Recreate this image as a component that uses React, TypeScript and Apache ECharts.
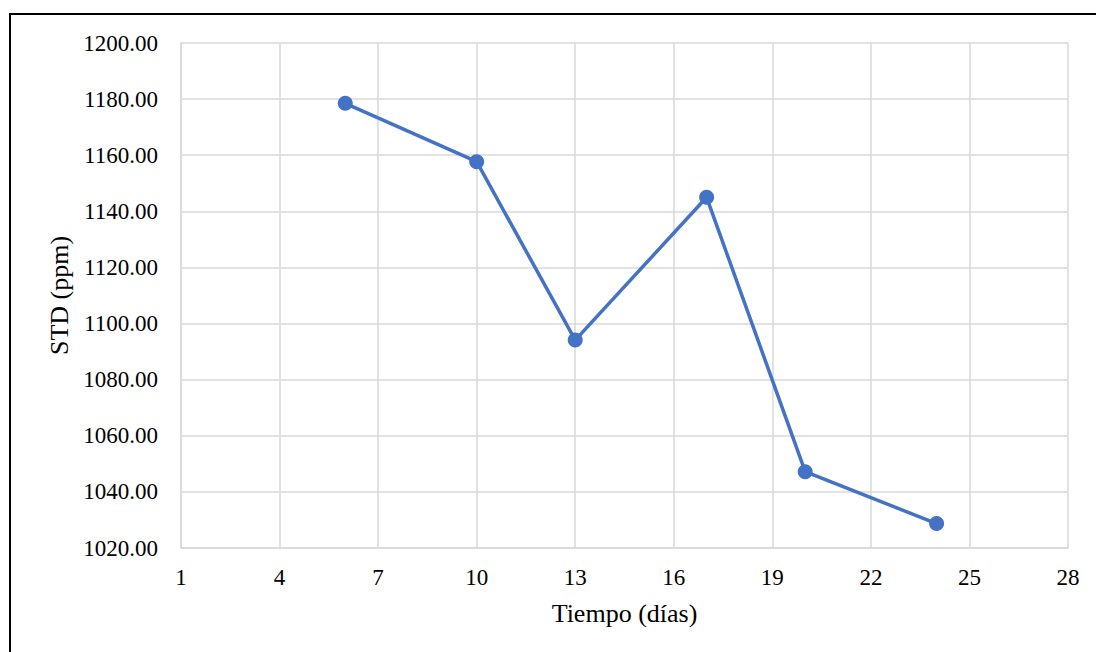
import React, { useEffect, useRef } from "react";
import * as echarts from "echarts";

const days = [6, 10, 13, 17, 20, 24];
const stdValues = [1178.5, 1157.7, 1094.1, 1145.0, 1047.2, 1028.7];
const xTitle = "Tiempo (días)";
const yTitle = "STD (ppm)";

export default function App() {
  const ref = useRef<HTMLDivElement>(null);
  useEffect(() => {
    if (!ref.current) return;
    const chart = echarts.init(ref.current, null, { renderer: "svg" });
    const font = "'Liberation Serif', 'Times New Roman', serif";
    chart.setOption({
      animation: false,
      backgroundColor: "#ffffff",
      textStyle: { fontFamily: font },
      graphic: [
        {
          type: "rect",
          shape: { x: 10, y: 14, width: 1100, height: 700 },
          style: { fill: "none", stroke: "#000000", lineWidth: 2 },
          silent: true,
        },
      ],
      grid: { left: 181, top: 43, right: 28, bottom: 104, containLabel: false },
      xAxis: {
        type: "value",
        min: 1,
        max: 28,
        interval: 3,
        name: xTitle,
        nameLocation: "middle",
        nameGap: 52,
        nameTextStyle: { fontSize: 26, color: "#000", fontFamily: font },
        axisLine: { show: true, lineStyle: { color: "#d9d9d9", width: 1.5 } },
        axisTick: { show: false },
        axisLabel: { fontSize: 23, color: "#000", margin: 18, fontFamily: font },
        splitLine: { show: true, lineStyle: { color: "#d9d9d9", width: 1.5 } },
      },
      yAxis: {
        type: "value",
        min: 1020,
        max: 1200,
        interval: 20,
        name: yTitle,
        nameLocation: "middle",
        nameGap: 106,
        nameRotate: 90,
        nameTextStyle: { fontSize: 26, color: "#000", fontFamily: font },
        axisLine: { show: true, lineStyle: { color: "#d9d9d9", width: 1.5 } },
        axisTick: { show: false },
        axisLabel: {
          fontSize: 23,
          color: "#000",
          margin: 23,
          fontFamily: font,
          formatter: (v: number) => v.toFixed(2),
        },
        splitLine: { show: true, lineStyle: { color: "#d9d9d9", width: 1.5 } },
      },
      series: [
        {
          type: "line",
          data: days.map((d, i) => [d, stdValues[i]]),
          symbol: "circle",
          symbolSize: 15,
          itemStyle: { color: "#4472C4" },
          lineStyle: { color: "#4472C4", width: 3.5 },
        },
      ],
    });
    return () => chart.dispose();
  }, []);
  return (
    <div
      ref={ref}
      style={{ position: "fixed", left: 0, top: 0, width: 1096, height: 652 }}
    />
  );
}
